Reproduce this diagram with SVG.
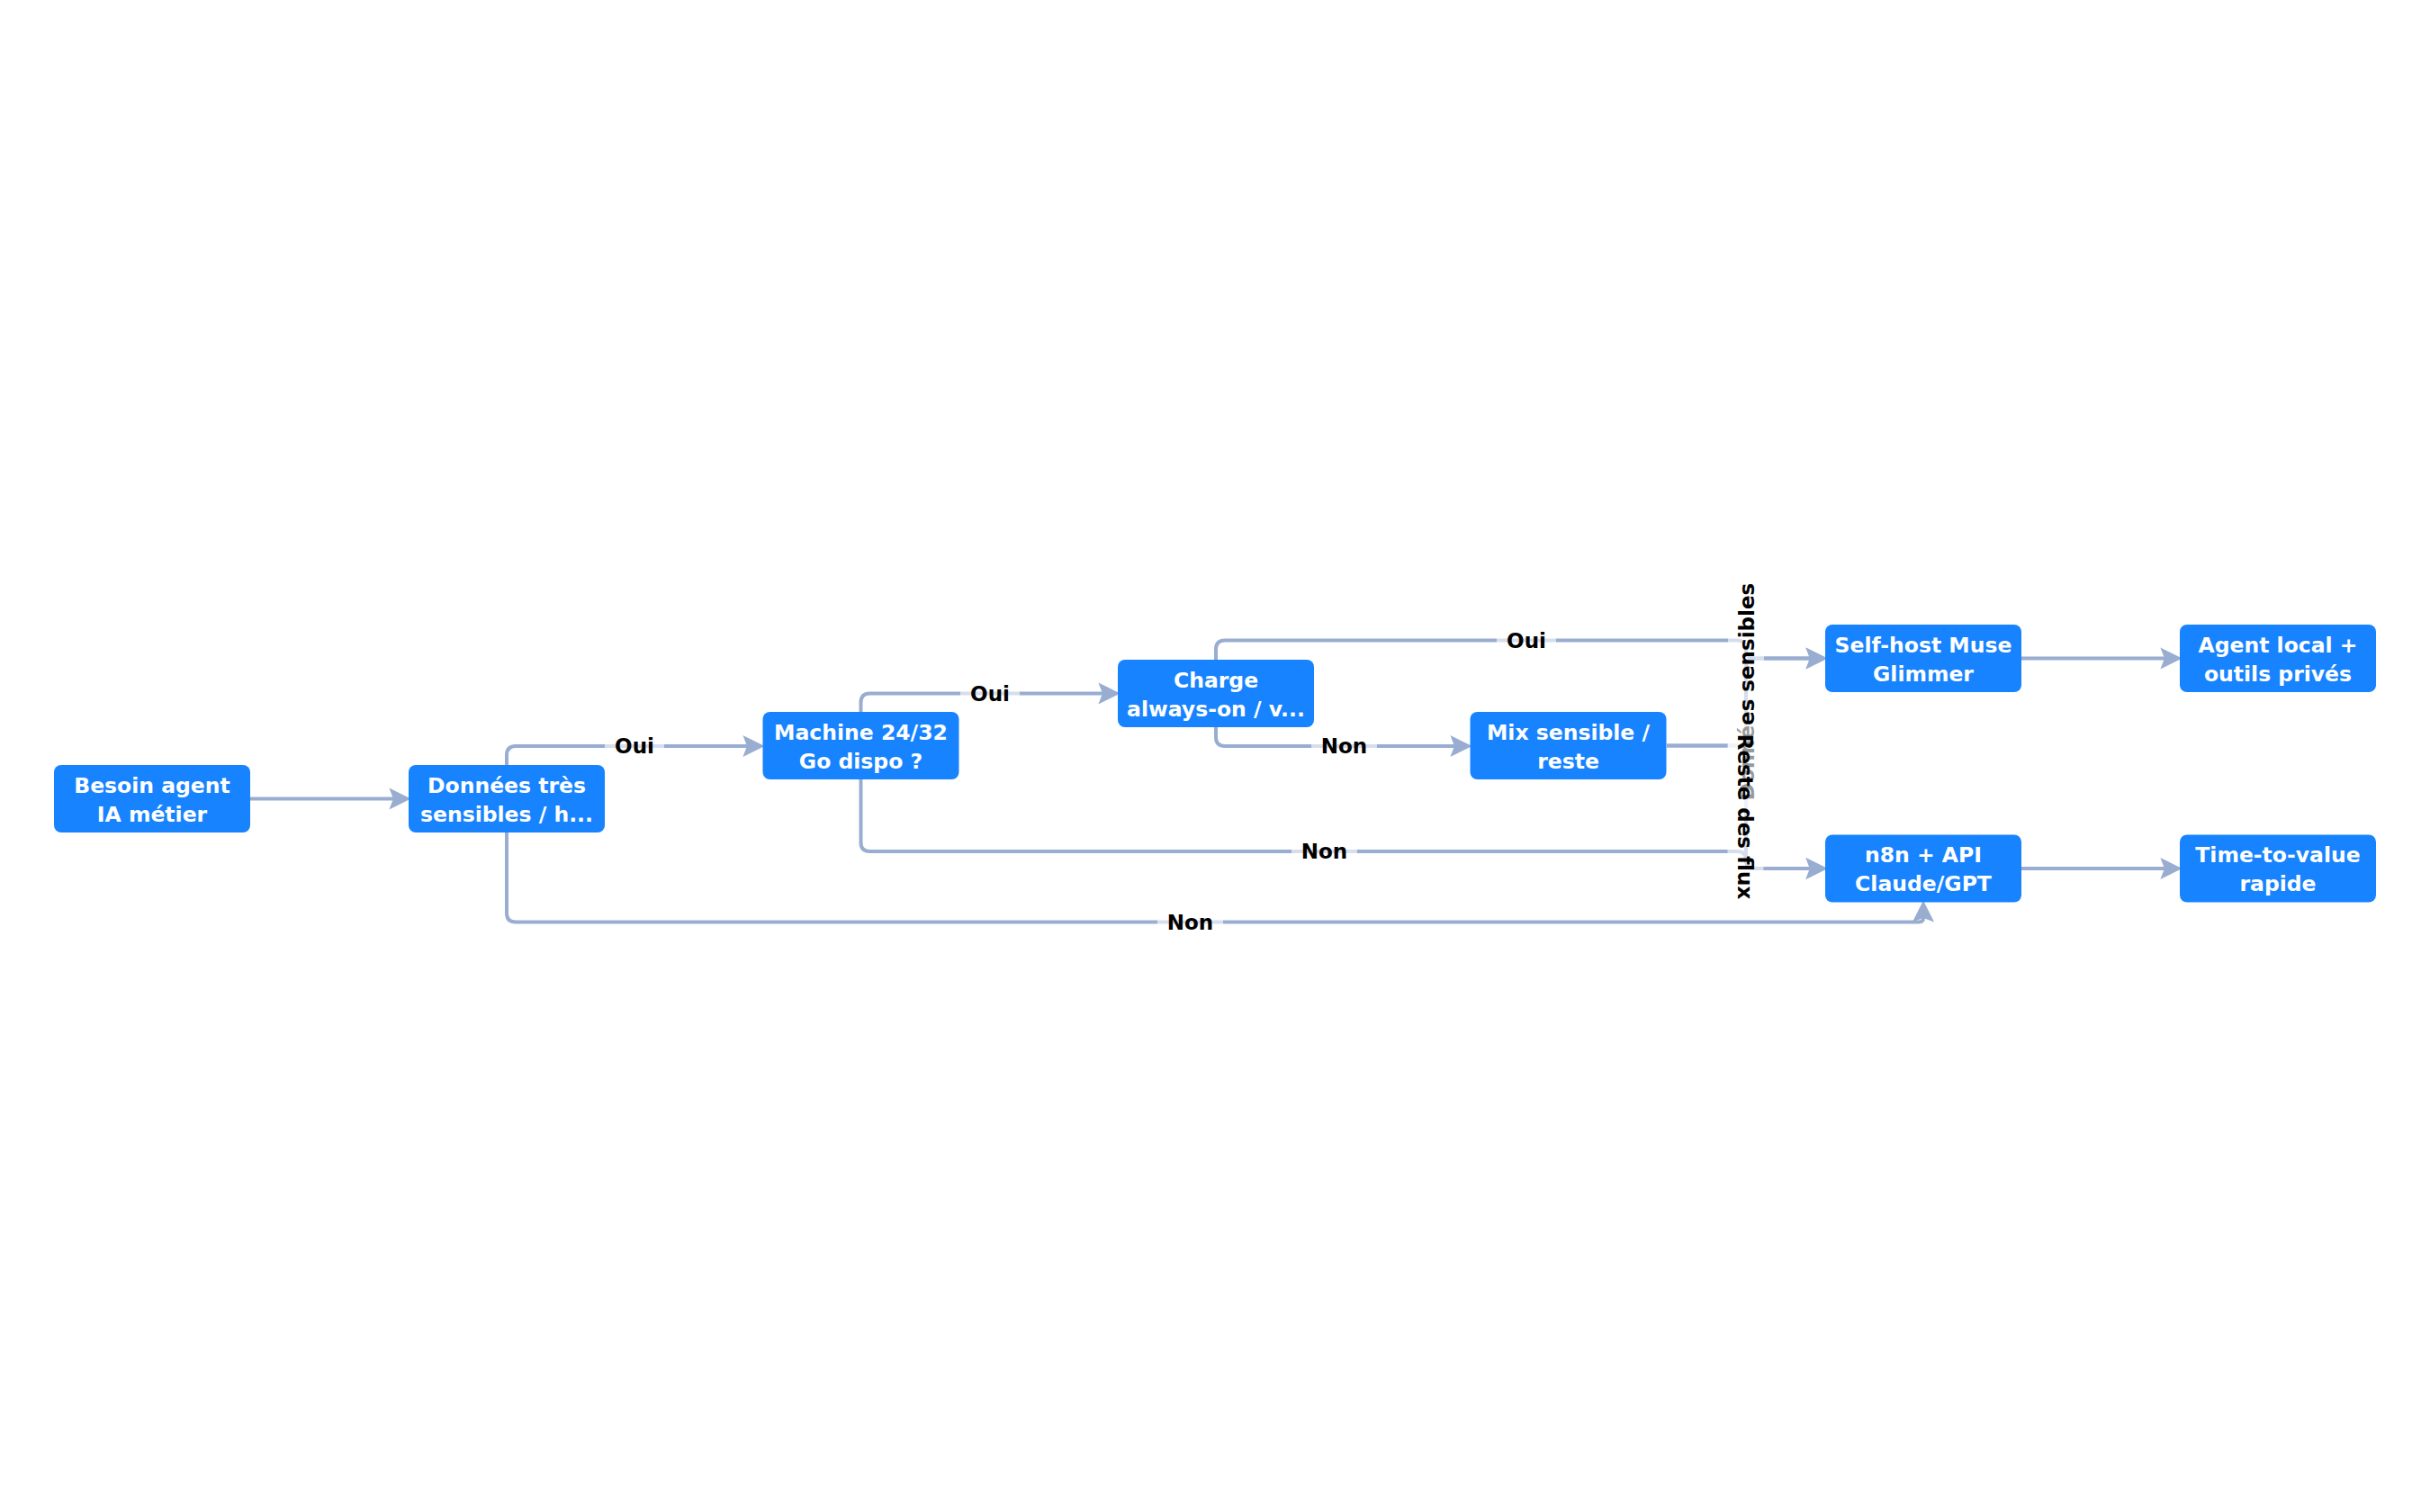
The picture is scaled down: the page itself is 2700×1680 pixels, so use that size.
<svg xmlns="http://www.w3.org/2000/svg" width="2700" height="1680" viewBox="0 0 2700 1680">
<style>
.node rect{fill:#1783FF}
.node text{fill:#ffffff;font-family:"DejaVu Sans",sans-serif;font-weight:bold;font-size:23.5px;text-anchor:middle}
.edge{fill:none;stroke:#99ADD1;stroke-width:4;marker-end:url(#arr)}
.lbg{fill:#ffffff;fill-opacity:0.6}
.lbl{fill:#000000;font-family:"DejaVu Sans",sans-serif;font-weight:bold;font-size:23px;text-anchor:middle}
</style>
<defs>
<marker id="arr" markerUnits="userSpaceOnUse" markerWidth="30" markerHeight="30" viewBox="-6 -12 26 24" refX="0" refY="0" orient="auto">
<path d="M-4,-10.5 L17,0 L-4,10.5 L0,0 Z" fill="#99ADD1"/>
</marker>
</defs>
<rect width="2700" height="1680" fill="#ffffff"/>
<g id="edges">
<path class="edge" d="M278,887.5 H437"/>
<path class="edge" d="M563,850 V839 Q563,829 573,829 H830"/>
<path class="edge" d="M563,925 V1014.5 Q563,1024.5 573,1024.5 H2132 Q2137,1024.5 2137,1020"/>
<path class="edge" d="M956.5,791 V780.5 Q956.5,770.5 966.5,770.5 H1225"/>
<path class="edge" d="M956.5,866 V936 Q956.5,946 966.5,946 H1930.5 Q1940,946 1940,955.5 Q1940,965 1949.5,965 H2011"/>
<path class="edge" d="M1351,733 V721.5 Q1351,711.5 1361,711.5 H1930 Q1940,711.5 1940,721.5 Q1940,731.5 1950,731.5 H2011"/>
<path class="edge" d="M1351,808 V819 Q1351,829 1361,829 H1616"/>
<path class="edge" d="M1852,828.5 H1930 Q1940,828.5 1940,818.5 V741.5 Q1940,731.5 1950,731.5 H2011"/>
<path class="edge" d="M1852,828.5 H1930 Q1940,828.5 1940,838.5 V955 Q1940,965 1950,965 H2011"/>
<path class="edge" d="M2246,731.5 H2405"/>
<path class="edge" d="M2246,965 H2405"/>
</g>
<g id="edge-labels">
<rect class="lbg" x="672" y="809" width="66" height="40"/>
<text class="lbl" x="705" y="837.4">Oui</text>
<rect class="lbg" x="1067" y="750.5" width="66" height="40"/>
<text class="lbl" x="1100" y="778.9">Oui</text>
<rect class="lbg" x="1663" y="691.5" width="66" height="40"/>
<text class="lbl" x="1696" y="719.9">Oui</text>
<rect class="lbg" x="1457" y="809" width="73" height="40"/>
<text class="lbl" x="1493.5" y="837.4">Non</text>
<rect class="lbg" x="1435" y="926" width="73" height="40"/>
<text class="lbl" x="1471.5" y="954.4">Non</text>
<rect class="lbg" x="1286" y="1004.5" width="73" height="40"/>
<text class="lbl" x="1322.5" y="1032.9">Non</text>
<g transform="translate(1941,768.5) rotate(-90)">
<rect class="lbg" x="-131" y="-21" width="262" height="40"/>
<text class="lbl" x="0" y="8.4">Données sensibles</text>
</g>
<g transform="translate(1939.5,907.5) rotate(90)">
<rect class="lbg" x="-103" y="-20" width="206" height="40"/>
<text class="lbl" x="0" y="8.4">Reste des flux</text>
</g>
</g>
<g id="n-besoin" class="node"><rect x="60" y="850" width="218" height="75" rx="8"/><text x="169" y="880.5">Besoin agent</text><text x="169" y="912.5">IA métier</text></g>
<g id="n-donnees" class="node"><rect x="454" y="850" width="218" height="75" rx="8"/><text x="563" y="880.5">Données très</text><text x="563" y="912.5">sensibles / h...</text></g>
<g id="n-machine" class="node"><rect x="847.5" y="791" width="218" height="75" rx="8"/><text x="956.5" y="821.5">Machine 24/32</text><text x="956.5" y="853.5">Go dispo ?</text></g>
<g id="n-charge" class="node"><rect x="1242" y="733" width="218" height="75" rx="8"/><text x="1351" y="763.5">Charge</text><text x="1351" y="795.5">always-on / v...</text></g>
<g id="n-mix" class="node"><rect x="1633.5" y="791" width="218" height="75" rx="8"/><text x="1742.5" y="821.5">Mix sensible /</text><text x="1742.5" y="853.5">reste</text></g>
<g id="n-selfhost" class="node"><rect x="2028" y="694" width="218" height="75" rx="8"/><text x="2137" y="724.5">Self-host Muse</text><text x="2137" y="756.5">Glimmer</text></g>
<g id="n-agent" class="node"><rect x="2422" y="694" width="218" height="75" rx="8"/><text x="2531" y="724.5">Agent local +</text><text x="2531" y="756.5">outils privés</text></g>
<g id="n-n8n" class="node"><rect x="2028" y="927.5" width="218" height="75" rx="8"/><text x="2137" y="958">n8n + API</text><text x="2137" y="990">Claude/GPT</text></g>
<g id="n-ttv" class="node"><rect x="2422" y="927.5" width="218" height="75" rx="8"/><text x="2531" y="958">Time-to-value</text><text x="2531" y="990">rapide</text></g>
</svg>
